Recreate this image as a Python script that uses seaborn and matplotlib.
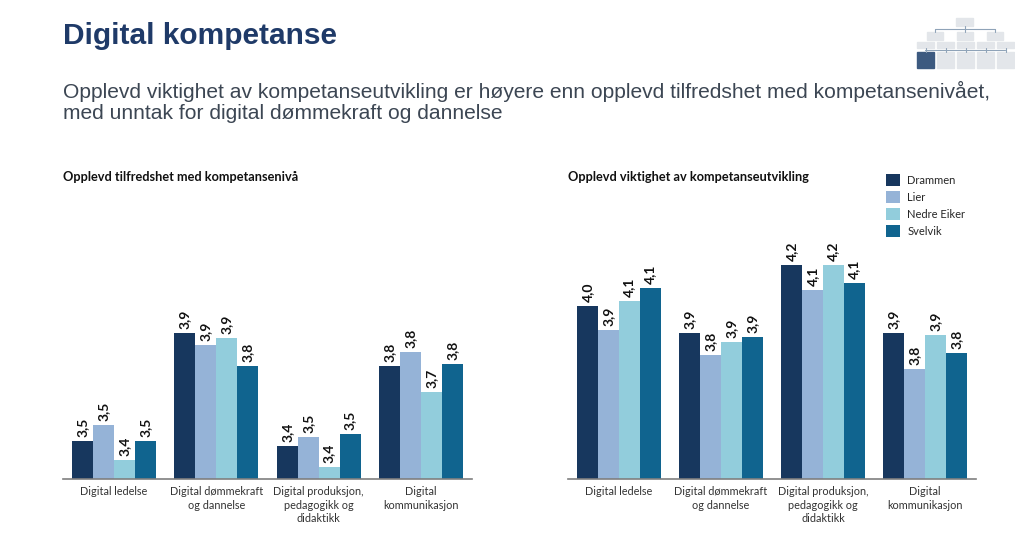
import numpy as np
import pandas as pd
import matplotlib.pyplot as plt
import seaborn as sns
from matplotlib.patches import Rectangle, Patch

# data
kategorier = ["Digital ledelse", "Digital dømmekraft\nog dannelse",
              "Digital produksjon,\npedagogikk og\ndidaktikk", "Digital\nkommunikasjon"]
kommuner = ["Drammen", "Lier", "Nedre Eiker", "Svelvik"]

tilfredshet = {
    "Drammen":     [3.46, 3.92, 3.44, 3.78],
    "Lier":        [3.53, 3.87, 3.48, 3.84],
    "Nedre Eiker": [3.38, 3.90, 3.35, 3.67],
    "Svelvik":     [3.46, 3.78, 3.49, 3.79],
}
viktighet = {
    "Drammen":     [4.04, 3.92, 4.22, 3.92],
    "Lier":        [3.93, 3.82, 4.11, 3.76],
    "Nedre Eiker": [4.06, 3.88, 4.22, 3.91],
    "Svelvik":     [4.12, 3.90, 4.14, 3.83],
}

farger = ["#17375e", "#95b3d7", "#92cddc", "#10648f"]

sns.set_style("white")
plt.rcParams["font.family"] = ["Liberation Sans", "DejaVu Sans"]

fig = plt.figure(figsize=(10.24, 5.59), dpi=100)
W, H = 1024, 559


def px_axes(x0, y0, x1, y1):
    return fig.add_axes([x0 / W, 1 - y1 / H, (x1 - x0) / W, (y1 - y0) / H])


def lag_df(d):
    rader = []
    for k in kommuner:
        for kat, v in zip(kategorier, d[k]):
            rader.append({"kategori": kat, "kommune": k, "verdi": v})
    return pd.DataFrame(rader)


def tegn(ax, d, ymin, ymax, tittel, tx):
    df = lag_df(d)
    sns.barplot(data=df, x="kategori", y="verdi", hue="kommune", hue_order=kommuner,
                palette=farger, saturation=1, width=0.82, ax=ax, legend=False,
                errorbar=None, linewidth=0, edgecolor="none")
    ax.set_ylim(ymin, ymax)
    ax.set_xlim(-0.5, 3.5)
    for c in ax.containers:
        ax.bar_label(c, fmt=lambda v: f"{v:.1f}".replace(".", ","), rotation=90,
                     padding=3, fontsize=10, fontweight="bold", color="#111111",
                     family="Lato")
    for s in ["top", "right", "left"]:
        ax.spines[s].set_visible(False)
    ax.spines["bottom"].set_color("#7f7f7f")
    ax.spines["bottom"].set_linewidth(1.2)
    ax.set_yticks([])
    ax.set_xlabel("")
    ax.set_ylabel("")
    ax.tick_params(axis="x", length=0, pad=5)
    ax.set_xticks(range(4))
    ax.set_xticklabels(kategorier, fontsize=7.8, color="#333333", family="Lato",
                       linespacing=1.3, va="top")
    fig.text(tx / W, 1 - 177 / H, tittel, fontsize=9.2, fontweight="bold",
             family="Lato", color="#111111", va="center")


ax1 = px_axes(63, 200, 472, 479)
tegn(ax1, tilfredshet, 3.3, 3.3 + 279 / 235, "Opplevd tilfredshet med kompetansenivå", 63)

ax2 = px_axes(568, 200, 976, 479)
tegn(ax2, viktighet, 3.27, 3.27 + 279 / 225, "Opplevd viktighet av kompetanseutvikling", 568)

# titles
fig.text(63 / W, 1 - 36 / H, "Digital kompetanse", fontsize=21.5, fontweight="bold",
         color="#1f3a68", va="center")
fig.text(63 / W, 1 - 102 / H,
         "Opplevd viktighet av kompetanseutvikling er høyere enn opplevd tilfredshet med kompetansenivået,\n"
         "med unntak for digital dømmekraft og dannelse",
         fontsize=15.1, color="#3c4653", va="center", linespacing=1.15)

# legend
handles = [Patch(facecolor=f, edgecolor="none") for f in farger]
fig.legend(handles, kommuner, loc="upper left", bbox_to_anchor=(876 / W, 1 - 164 / H),
           frameon=False, handlelength=1.3, handleheight=1.3,
           labelspacing=0.45, handletextpad=0.6, prop={"family": "Lato", "size": 8})

# org chart logo
lg = px_axes(915, 15, 1015, 72)
lg.set_xlim(0, 100)
lg.set_ylim(57, 0)
lg.axis("off")
grå = "#e3e6ea"
linje = "#8fa3b8"
lg.add_patch(Rectangle((41, 3), 17, 8, color=grå))
for x in [12, 42, 72]:
    lg.add_patch(Rectangle((x, 17), 16, 8, color=grå))
lg.plot([20, 80], [14, 14], color=linje, lw=0.8)
for x in [20, 50, 80]:
    lg.plot([x, x], [11 if x == 50 else 14, 17], color=linje, lw=0.8)
for i in range(5):
    lg.add_patch(Rectangle((2 + i * 20, 27), 17, 6, color=grå))
lg.plot([10, 90], [35, 35], color=linje, lw=0.8)
for i in range(5):
    x = 2 + i * 20
    lg.plot([x + 8.5, x + 8.5], [33, 37], color=linje, lw=0.8)
    lg.add_patch(Rectangle((x, 37), 17, 16, color="#3d5a80" if i == 0 else grå))

fig.savefig("out.png", dpi=100)
